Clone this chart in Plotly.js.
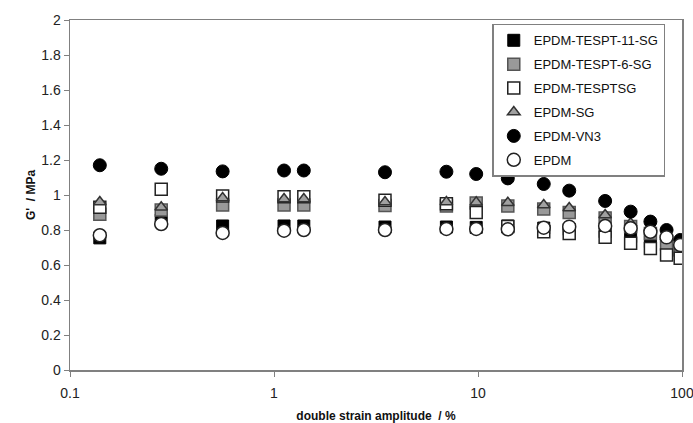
<!DOCTYPE html>
<html>
<head>
<meta charset="utf-8">
<script src="https://cdn.plot.ly/plotly-3.0.1.min.js"></script>
<style>html,body{margin:0;padding:0;background:#fff;}#chart{width:693px;height:423px;}</style>
</head>
<body>
<div id="chart"></div>
<script>
const strain = [0.14, 0.28, 0.56, 1.12, 1.4, 3.5, 7, 9.8, 14, 21, 28, 42, 56, 70, 84, 98];

const tespt11sg = [0.755, 0.857, 0.823, 0.823, 0.823, 0.817, 0.817, 0.815, 0.823, 0.811, 0.804, 0.79, 0.762, 0.733, 0.705, 0.68];
const tespt6sg  = [0.89, 0.914, 0.943, 0.943, 0.943, 0.94, 0.937, 0.954, 0.937, 0.92, 0.90, 0.869, 0.82, 0.78, 0.72, 0.69];
const tesptsg   = [0.93, 1.033, 0.994, 0.99, 0.99, 0.97, 0.95, 0.90, 0.82, 0.79, 0.78, 0.758, 0.724, 0.695, 0.657, 0.638];
const sg        = [0.96, 0.93, 0.983, 0.977, 0.977, 0.96, 0.96, 0.958, 0.956, 0.943, 0.926, 0.886, 0.838, 0.81, 0.76, 0.73];
const vn3       = [1.17, 1.15, 1.135, 1.14, 1.14, 1.13, 1.133, 1.12, 1.095, 1.063, 1.025, 0.966, 0.905, 0.848, 0.80, 0.743];
const epdm      = [0.77, 0.834, 0.783, 0.796, 0.80, 0.80, 0.806, 0.806, 0.804, 0.813, 0.819, 0.823, 0.81, 0.79, 0.758, 0.714];

const seriesNames = ["EPDM-TESPT-11-SG", "EPDM-TESPT-6-SG", "EPDM-TESPTSG", "EPDM-SG", "EPDM-VN3", "EPDM"];
const yTicks = [0, 0.2, 0.4, 0.6, 0.8, 1, 1.2, 1.4, 1.6, 1.8, 2];
const yTickText = ["0", "0.2", "0.4", "0.6", "0.8", "1", "1.2", "1.4", "1.6", "1.8", "2"];
const xTicks = [0.1, 1, 10, 100];
const xTickText = ["0.1", "1", "10", "100"];

const styles = [
  {symbol: "square", size: 12, color: "#000000", line: {color: "#000000", width: 1}},
  {symbol: "square", size: 12, color: "#999999", line: {color: "#555555", width: 1.5}},
  {symbol: "square", size: 12, color: "#ffffff", line: {color: "#222222", width: 1.5}},
  {symbol: "triangle-up", size: 11, color: "#a0a0a0", line: {color: "#333333", width: 1.5}},
  {symbol: "circle", size: 13, color: "#000000", line: {color: "#000000", width: 1}},
  {symbol: "circle", size: 13, color: "#ffffff", line: {color: "#222222", width: 1.5}}
];
const values = [tespt11sg, tespt6sg, tesptsg, sg, vn3, epdm];

const data = values.map((v, i) => ({
  x: strain, y: v, type: "scatter", mode: "markers", name: seriesNames[i],
  legendgroup: "g" + i,
  marker: {symbol: styles[i].symbol, size: styles[i].size, color: styles[i].color, line: styles[i].line}
}));

const layout = {
  width: 693, height: 423,
  margin: {l: 70, r: 11, t: 20, b: 53},
  paper_bgcolor: "#ffffff", plot_bgcolor: "#ffffff",
  font: {family: "Liberation Sans, Arial, sans-serif", size: 14, color: "#222"},
  showlegend: true,
  legend: {
    x: 0.69, y: 0.989, xanchor: "left", yanchor: "top",
    bgcolor: "#ffffff", bordercolor: "#808080", borderwidth: 1.5,
    font: {size: 13, color: "#111"}, traceorder: "grouped", tracegroupgap: 4
  },
  xaxis: {
    type: "log", range: [-1, 2], tickvals: xTicks, ticktext: xTickText,
    showgrid: false, zeroline: false, showline: true, mirror: true,
    linecolor: "#808080", linewidth: 1.5, ticks: "outside", ticklen: 5, tickcolor: "#808080",
    tickfont: {size: 14, color: "#222"}, ticklabelstandoff: 5, ticklabeloverflow: "allow",
    title: {text: "<b>double strain amplitude  / %</b>", font: {size: 12, color: "#111"}, standoff: 18}
  },
  yaxis: {
    range: [0, 2], tickvals: yTicks, ticktext: yTickText,
    showgrid: false, zeroline: false, showline: true, mirror: true,
    linecolor: "#808080", linewidth: 1.5, ticks: "outside", ticklen: 5, tickcolor: "#808080",
    tickfont: {size: 14, color: "#222"},
    title: {text: "<b>G'  / MPa</b>", font: {size: 12, color: "#111"}, standoff: 3}
  }
};

Plotly.newPlot("chart", data, layout, {displayModeBar: false, staticPlot: true});
</script>
</body>
</html>
